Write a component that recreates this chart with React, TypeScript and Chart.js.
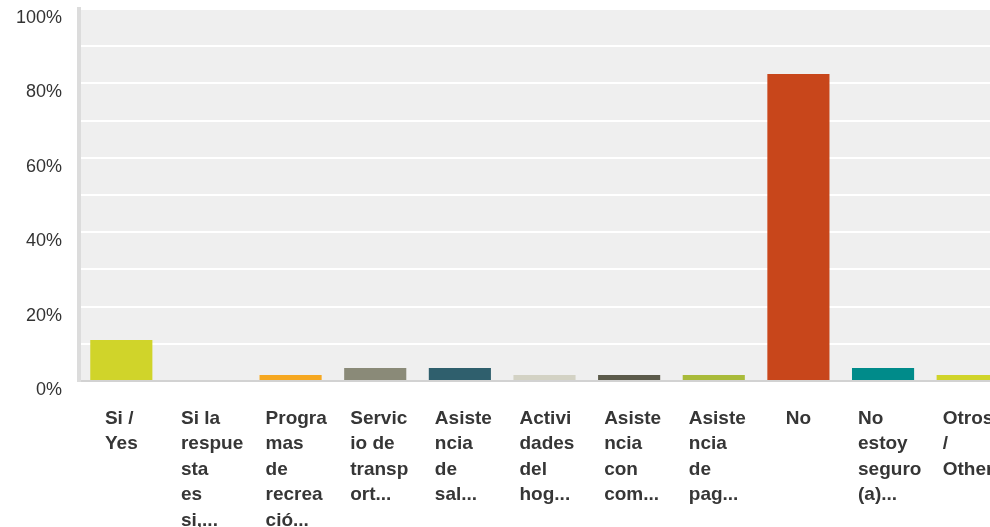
import React, { useEffect, useRef } from "react";
import { Chart, registerables } from "chart.js";

Chart.register(...registerables);

const categoryLines: string[][] = [
  ["Si /", "Yes"],
  ["Si la", "respue", "sta", "es", "si,..."],
  ["Progra", "mas", "de", "recrea", "ció..."],
  ["Servic", "io de", "transp", "ort..."],
  ["Asiste", "ncia", "de", "sal..."],
  ["Activi", "dades", "del", "hog..."],
  ["Asiste", "ncia", "con", "com..."],
  ["Asiste", "ncia", "de", "pag..."],
  ["No"],
  ["No", "estoy", "seguro", "(a)..."],
  ["Otros", "/", "Others"],
];

const values: number[] = [11.0, 0, 1.6, 3.5, 3.5, 1.6, 1.6, 1.6, 82.5, 3.5, 1.6];

const barColors: string[] = [
  "#d0d42a",
  "#cfcfcf",
  "#f6a821",
  "#8a8a78",
  "#2f5f6d",
  "#d3d2c4",
  "#5b5a4a",
  "#a9bb3a",
  "#c8461b",
  "#008b8a",
  "#d0d42a",
];

const yTickValues: number[] = [0, 20, 40, 60, 80, 100];

const FONT = '"Liberation Sans", Arial, Helvetica, sans-serif';

const bgPlugin = {
  id: "plotBg",
  beforeDraw(chart: any) {
    const { ctx, chartArea } = chart;
    ctx.save();
    ctx.fillStyle = "#efefef";
    ctx.fillRect(chartArea.left, chartArea.top, chartArea.right - chartArea.left, chartArea.bottom - chartArea.top);
    ctx.restore();
  },
};

const labelPlugin = {
  id: "wrappedLabels",
  afterDraw(chart: any) {
    const { ctx } = chart;
    const xScale = chart.scales.x;
    ctx.save();
    ctx.font = `bold 19px ${FONT}`;
    ctx.fillStyle = "#363636";
    ctx.textAlign = "left";
    ctx.textBaseline = "alphabetic";
    const firstBaseline = xScale.top + 43;
    const lineStep = 25.4;
    categoryLines.forEach((lines, i) => {
      const cx = xScale.getPixelForValue(i);
      let w = 0;
      lines.forEach((l) => {
        w = Math.max(w, ctx.measureText(l).width);
      });
      const startX = cx - Math.min(w, 50) / 2;
      lines.forEach((l, j) => {
        ctx.fillText(l, startX, firstBaseline + j * lineStep);
      });
    });
    ctx.restore();
  },
};

export default function App() {
  const canvasRef = useRef<HTMLCanvasElement | null>(null);

  useEffect(() => {
    document.documentElement.style.overflow = "hidden";
    document.body.style.margin = "0";
    document.body.style.overflow = "hidden";
    const canvas = canvasRef.current;
    if (!canvas) return;
    const chart = new Chart(canvas, {
      type: "bar",
      data: {
        labels: categoryLines.map((l) => l.join(" ")),
        datasets: [
          {
            data: values,
            backgroundColor: barColors,
            borderWidth: 0,
            categoryPercentage: 1,
            barPercentage: 0.734,
          },
        ],
      },
      options: {
        responsive: false,
        animation: false,
        devicePixelRatio: 1,
        layout: { padding: { top: 9, left: 0, right: 0, bottom: 0 } },
        plugins: {
          legend: { display: false },
          tooltip: { enabled: false },
          title: { display: false },
        },
        scales: {
          x: {
            type: "category",
            offset: true,
            grid: { display: false, drawTicks: false },
            border: { display: true, color: "#d2d2d2", width: 2 },
            ticks: { display: false },
            afterFit: (scale: any) => {
              scale.height = 146;
              scale.paddingLeft = 0;
              scale.paddingRight = 0;
            },
          },
          y: {
            min: 0,
            max: 100,
            afterBuildTicks: (scale: any) => {
              const t: any[] = [];
              for (let v = 0; v <= 100; v += 10) t.push({ value: v });
              scale.ticks = t;
            },
            ticks: {
              stepSize: 10,
              padding: 17,
              labelOffset: 9,
              color: "#333333",
              font: { size: 18, family: FONT },
              callback: (v: any) => (yTickValues.includes(Number(v)) ? `${v}%` : ""),
            },
            grid: { color: "#ffffff", lineWidth: 2, drawTicks: false },
            border: { display: true, color: "#dcdcdc", width: 4 },
            afterFit: (scale: any) => {
              scale.width = 79;
              scale.paddingTop = 0;
              scale.paddingBottom = 0;
            },
          },
        },
      },
      plugins: [bgPlugin, labelPlugin],
    });
    return () => chart.destroy();
  }, []);

  return (
    <div style={{ position: "absolute", left: 0, top: 0, width: 1010, height: 527, overflow: "hidden" }}>
      <canvas ref={canvasRef} width={1010} height={527} />
    </div>
  );
}
